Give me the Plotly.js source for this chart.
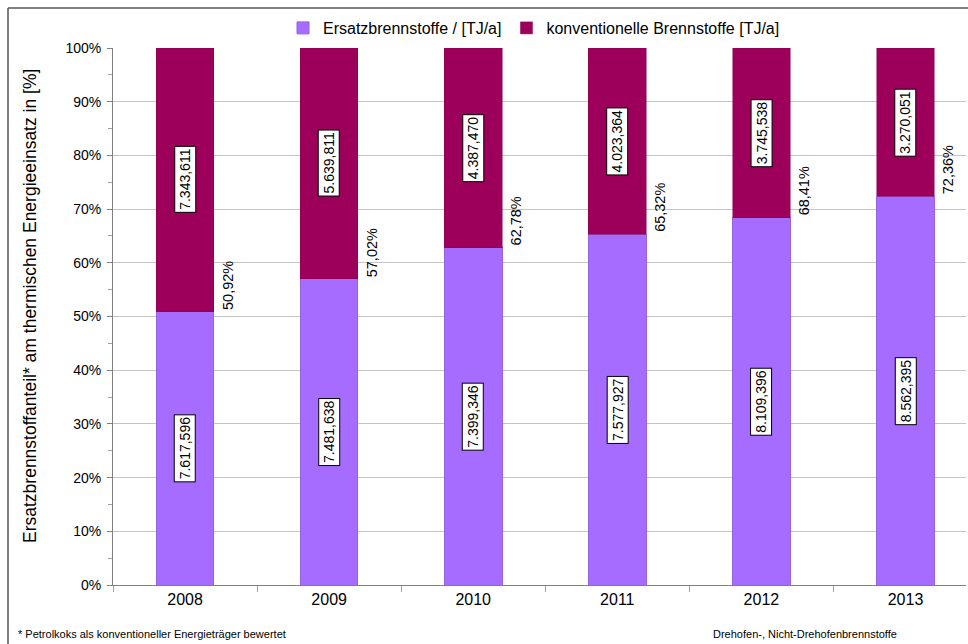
<!DOCTYPE html>
<html>
<head>
<meta charset="utf-8">
<script src="https://cdn.plot.ly/plotly-3.0.1.min.js"></script>
<style>
html,body{margin:0;padding:0;overflow:hidden;background:#fff;}
#chart{width:968px;height:644px;}
</style>
</head>
<body>
<div id="chart"></div>
<script>
// Data (TJ/a, shown in the chart as e.g. 7.617,596)
const years = ['2008', '2009', '2010', '2011', '2012', '2013'];
const ersatz = [7617.596, 7481.638, 7399.346, 7577.927, 8109.396, 8562.395];
const konventionell = [7343.611, 5639.811, 4387.470, 4023.364, 3745.538, 3270.051];
const seriesNames = ['Ersatzbrennstoffe / [TJ/a]', 'konventionelle Brennstoffe [TJ/a]'];
const yTickVals = [0, 10, 20, 30, 40, 50, 60, 70, 80, 90, 100];

const PURPLE = '#A66CFF';
const MAROON = '#9C005A';
const FONT = 'Liberation Sans, Arial, sans-serif';

function fmtVal(v) {
  const s = v.toFixed(3).split('.');
  return s[0].replace(/\B(?=(\d{3})+(?!\d))/g, '.') + ',' + s[1];
}

const shares = years.map((y, i) => ersatz[i] / (ersatz[i] + konventionell[i]) * 100);

const traces = [
  {type: 'bar', name: seriesNames[0], x: years, y: ersatz, width: 0.4,
   marker: {color: PURPLE, line: {color: '#9563E0', width: 1}}, hoverinfo: 'none'},
  {type: 'bar', name: seriesNames[1], x: years, y: konventionell, width: 0.4,
   marker: {color: MAROON, line: {color: '#8A0050', width: 0.5}}, hoverinfo: 'none'}
];

const annotations = [];
years.forEach((yr, i) => {
  const s = shares[i];
  annotations.push({x: i, y: s / 2, xref: 'x', yref: 'y', text: fmtVal(ersatz[i]),
    showarrow: false, textangle: -90, bgcolor: '#fff', bordercolor: '#000', borderwidth: 1,
    borderpad: 2, font: {family: FONT, size: 14, color: '#000'}});
  annotations.push({x: i, y: (s + 100) / 2, xref: 'x', yref: 'y', text: fmtVal(konventionell[i]),
    showarrow: false, textangle: -90, bgcolor: '#fff', bordercolor: '#000', borderwidth: 1,
    borderpad: 2, font: {family: FONT, size: 14, color: '#000'}});
  annotations.push({x: i + 0.2, y: s, xref: 'x', yref: 'y',
    text: s.toFixed(2).replace('.', ',') + '%', showarrow: false, textangle: -90,
    xanchor: 'left', yanchor: 'bottom', xshift: 4,
    font: {family: FONT, size: 14.5, color: '#000'}});
});

// Pixel helpers for paper coordinates
const L = 113, T = 48, W = 853, H = 537;
const px = p => (p - L) / W;
const py = p => (T + H - p) / H;

annotations.push({xref: 'paper', yref: 'paper', x: px(30), y: py(306), xanchor: 'center', yanchor: 'middle',
  text: 'Ersatzbrennstoffanteil* am thermischen Energieeinsatz in [%]', textangle: -90, showarrow: false,
  font: {family: FONT, size: 17.5, color: '#000'}});
annotations.push({xref: 'paper', yref: 'paper', x: px(16), y: py(634), xanchor: 'left', yanchor: 'middle',
  text: '* Petrolkoks als konventioneller Energieträger bewertet', showarrow: false,
  font: {family: FONT, size: 11, color: '#000'}});
annotations.push({xref: 'paper', yref: 'paper', x: px(711), y: py(634), xanchor: 'left', yanchor: 'middle',
  text: 'Drehofen-, Nicht-Drehofenbrennstoffe', showarrow: false,
  font: {family: FONT, size: 11, color: '#000'}});

const shapes = [
  {type: 'line', xref: 'paper', yref: 'paper', x0: px(8), x1: px(970), y0: py(8), y1: py(8),
   line: {color: '#555', width: 1.5}},
  {type: 'line', xref: 'paper', yref: 'paper', x0: px(8), x1: px(8), y0: py(8), y1: py(650),
   line: {color: '#555', width: 1.5}}
];

const layout = {
  width: 968, height: 644,
  margin: {l: L, r: 968 - L - W, t: T, b: 644 - T - H},
  paper_bgcolor: '#fff', plot_bgcolor: '#fff',
  barmode: 'stack', barnorm: 'percent',
  showlegend: true,
  legend: {orientation: 'h', x: px(534), xanchor: 'center', y: py(28), yanchor: 'middle',
    traceorder: 'normal', font: {family: FONT, size: 16, color: '#000'}, itemwidth: 30},
  font: {family: FONT, color: '#000'},
  xaxis: {type: 'category', range: [-0.5, 5.42], showgrid: false, showline: true,
    linecolor: '#808080', linewidth: 1, ticks: 'outside', tickson: 'boundaries', ticklen: 6,
    tickcolor: '#A0A0A0', tickfont: {family: FONT, size: 16, color: '#000'}, fixedrange: true},
  yaxis: {range: [0, 100], tickvals: yTickVals, ticktext: yTickVals.map(v => v + '%'),
    showgrid: true, gridcolor: '#C4C4C4', gridwidth: 1, zeroline: false,
    showline: true, linecolor: '#808080', linewidth: 1, ticks: 'outside', ticklen: 5,
    tickcolor: '#808080', tickfont: {family: FONT, size: 14, color: '#000'},
    ticklabelstandoff: 3,
    minor: {dtick: 5, ticks: 'outside', ticklen: 4, tickcolor: '#A0A0A0', showgrid: false},
    fixedrange: true},
  annotations: annotations,
  shapes: shapes
};

Plotly.newPlot('chart', traces, layout, {staticPlot: true, displayModeBar: false});
</script>
</body>
</html>
